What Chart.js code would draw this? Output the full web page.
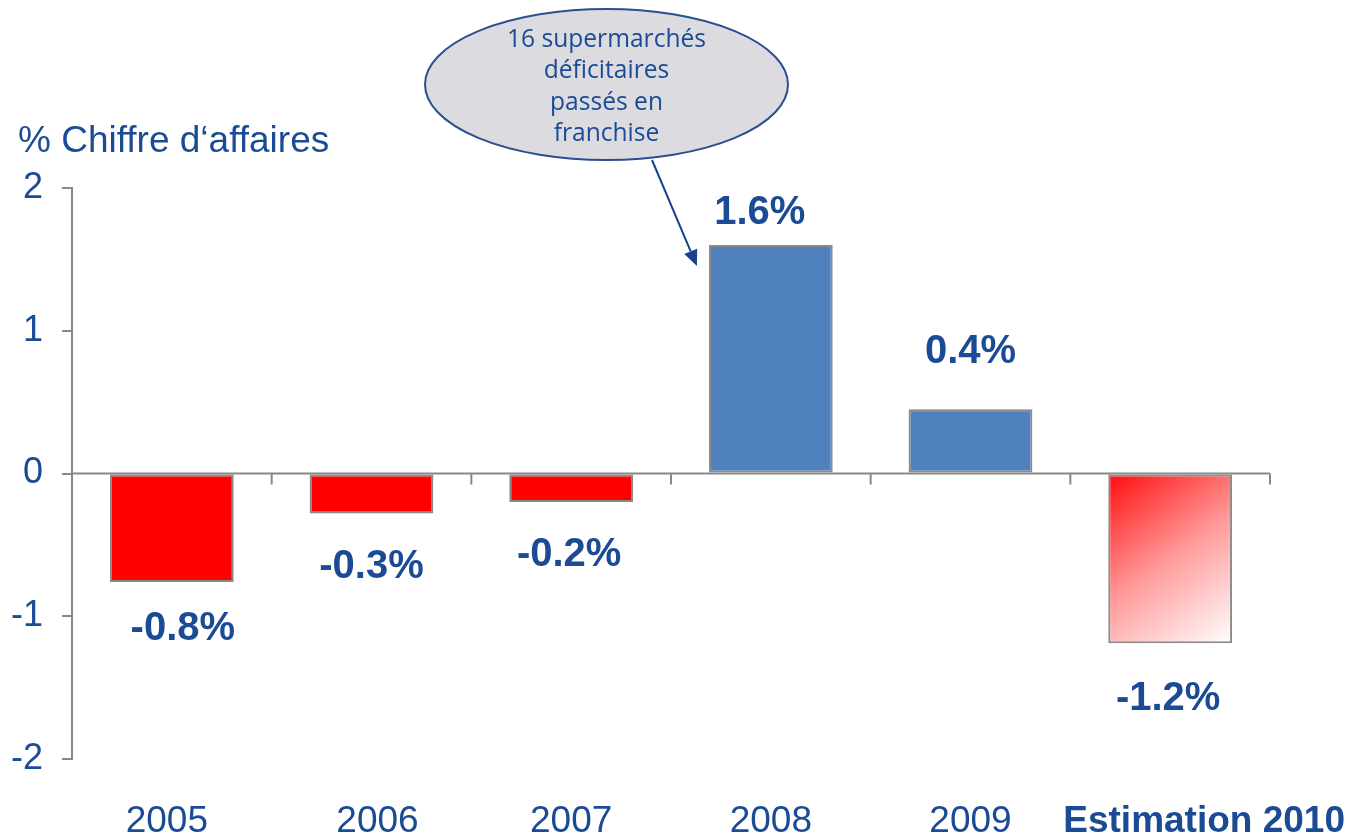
<!DOCTYPE html>
<html>
<head>
<meta charset="utf-8">
<script src="https://cdn.jsdelivr.net/npm/chart.js@4/dist/chart.umd.min.js"></script>
<style>
  html, body { margin: 0; padding: 0; background: #ffffff; }
  #wrap { width: 1350px; height: 837px; }
</style>
</head>
<body>
<div id="wrap"><canvas id="c" width="1350" height="837"></canvas></div>
<script>
// ---- Data ----
const categories = ['2005', '2006', '2007', '2008', '2009', 'Estimation 2010'];
const values = [-0.76, -0.28, -0.2, 1.6, 0.45, -1.19];
const valueLabels = ['-0.8%', '-0.3%', '-0.2%', '1.6%', '0.4%', '-1.2%'];
const yTickValues = [-2, -1, 0, 1, 2];
const axisTitle = '% Chiffre d\u2018affaires';
const calloutLines = ['16 supermarchés', 'déficitaires', 'passés en', 'franchise'];
const calloutIndex = 3;      // the bar the callout points at
const estimateIndex = 5;     // estimated value (gradient bar)

// ---- Style ----
const TEXT_BLUE = '#1B4B94';
const AXIS_GREY = '#888888';
const FONT = "'Liberation Sans', Arial, Helvetica, sans-serif";
const BAR_PCT = 0.62;

const styleCfg = {
  labelDy: [44, 51, 50, 35, 60, 53],
  labelDx: [11, 0, -2, -11, 0, -2],
  catDx: [-5, 6, 0, 0, 0, 0]
};

function barFill(ctx) {
  const i = ctx.dataIndex;
  if (i === undefined) return '#FF0000';
  const v = values[i];
  if (i === estimateIndex) {
    const chart = ctx.chart;
    const xs = chart.scales.x, ys = chart.scales.y;
    if (!chart.chartArea || !xs || !ys) return '#FF0000';
    const cx = xs.getPixelForValue(i);
    const half = (xs.width / categories.length) * BAR_PCT / 2;
    const y0 = ys.getPixelForValue(0);
    const y1 = ys.getPixelForValue(v);
    const g = chart.ctx.createLinearGradient(cx - half, y0, cx + half, y1);
    g.addColorStop(0, '#FF0C0C');
    g.addColorStop(0.5, '#FF9A9A');
    g.addColorStop(1, '#FFFFFF');
    return g;
  }
  return v >= 0 ? '#4F81BD' : '#FF0000';
}

const decorPlugin = {
  id: 'decor',
  afterDatasetsDraw(chart) {
    const ctx = chart.ctx;
    const xs = chart.scales.x, ys = chart.scales.y;
    const area = chart.chartArea;
    const y0 = ys.getPixelForValue(0);
    const step = xs.width / categories.length;

    ctx.save();
    // zero line + category boundary ticks
    ctx.strokeStyle = AXIS_GREY;
    ctx.lineWidth = 2;
    ctx.beginPath();
    ctx.moveTo(area.left, y0);
    ctx.lineTo(area.right, y0);
    for (let i = 0; i < categories.length; i++) {
      const bx = xs.getPixelForValue(i) + step / 2;
      ctx.moveTo(bx, y0);
      ctx.lineTo(bx, y0 + 11);
    }
    ctx.stroke();

    // value labels
    const meta = chart.getDatasetMeta(0);
    ctx.fillStyle = TEXT_BLUE;
    ctx.font = 'bold 40px ' + FONT;
    ctx.textAlign = 'center';
    ctx.textBaseline = 'alphabetic';
    meta.data.forEach((el, i) => {
      const v = values[i];
      const cy = v >= 0 ? el.y - styleCfg.labelDy[i] : el.y + styleCfg.labelDy[i];
      ctx.fillText(valueLabels[i], el.x + styleCfg.labelDx[i], cy + 14);
    });

    // category labels
    categories.forEach((lab, i) => {
      const bold = i === estimateIndex;
      ctx.font = (bold ? 'bold ' : '') + '37px ' + FONT;
      const w = ctx.measureText(lab).width;
      let cx = xs.getPixelForValue(i) + styleCfg.catDx[i];
      if (bold) cx = chart.width - 5 - w / 2;   // estimate label sits flush to the right edge
      ctx.fillText(lab, cx, 832);
    });

    // axis title
    ctx.font = '37px ' + FONT;
    ctx.textAlign = 'left';
    ctx.fillText(axisTitle, 18, 152);

    // callout ellipse
    const ecx = 606.5, ecy = 84.5, erx = 181.5, ery = 75.5;
    ctx.beginPath();
    ctx.ellipse(ecx, ecy, erx, ery, 0, 0, Math.PI * 2);
    ctx.fillStyle = '#DCDCE0';
    ctx.fill();
    ctx.lineWidth = 2;
    ctx.strokeStyle = '#2A4E90';
    ctx.stroke();

    // callout text (fit first line to its measured width)
    const base = 22;
    ctx.font = base + "px 'Open Sans', 'Noto Sans', sans-serif";
    const mw = ctx.measureText(calloutLines[0]).width;
    const fs = Math.max(16, Math.min(28, base * 199 / mw));
    ctx.font = fs.toFixed(1) + "px 'Open Sans', 'Noto Sans', sans-serif";
    ctx.fillStyle = TEXT_BLUE;
    ctx.textAlign = 'center';
    ctx.textBaseline = 'middle';
    calloutLines.forEach((ln, k) => {
      ctx.fillText(ln, ecx, 40 + k * 31.3);
    });

    // arrow to the 2008 bar
    const tb = meta.data[calloutIndex];
    const tx = tb.x - tb.width / 2 - 12;
    const ty = tb.y + 21;
    const sx = 652, sy = 160;
    const ang = Math.atan2(ty - sy, tx - sx);
    const hl = 16, hw = 7;
    const bx = tx - hl * Math.cos(ang), by = ty - hl * Math.sin(ang);
    ctx.strokeStyle = '#1A4090';
    ctx.fillStyle = '#1A4090';
    ctx.lineWidth = 2;
    ctx.beginPath();
    ctx.moveTo(sx, sy);
    ctx.lineTo(bx, by);
    ctx.stroke();
    ctx.beginPath();
    ctx.moveTo(tx, ty);
    ctx.lineTo(bx + hw * Math.sin(ang), by - hw * Math.cos(ang));
    ctx.lineTo(bx - hw * Math.sin(ang), by + hw * Math.cos(ang));
    ctx.closePath();
    ctx.fill();
    ctx.restore();
  }
};

new Chart(document.getElementById('c'), {
  type: 'bar',
  data: {
    labels: categories,
    datasets: [{
      data: values,
      backgroundColor: barFill,
      borderColor: '#8A8A8A',
      borderWidth: 2,
      borderSkipped: false,
      categoryPercentage: 1.0,
      barPercentage: BAR_PCT
    }]
  },
  options: {
    responsive: false,
    devicePixelRatio: 1,
    animation: false,
    layout: { padding: { top: 188, bottom: 78, right: 80, left: 0 } },
    plugins: { legend: { display: false }, tooltip: { enabled: false } },
    scales: {
      x: { type: 'category', display: false, offset: true },
      y: {
        min: -2, max: 2,
        afterFit(s) { s.width = 72; },
        afterBuildTicks(s) { s.ticks = yTickValues.map(v => ({ value: v })); },
        ticks: {
          color: TEXT_BLUE,
          font: { family: FONT, size: 36 },
          padding: 19,
          stepSize: 1
        },
        grid: { drawOnChartArea: false, drawTicks: true, tickLength: 10, color: AXIS_GREY, lineWidth: 2 },
        border: { display: true, color: AXIS_GREY, width: 2 }
      }
    }
  },
  plugins: [decorPlugin]
});
</script>
</body>
</html>
